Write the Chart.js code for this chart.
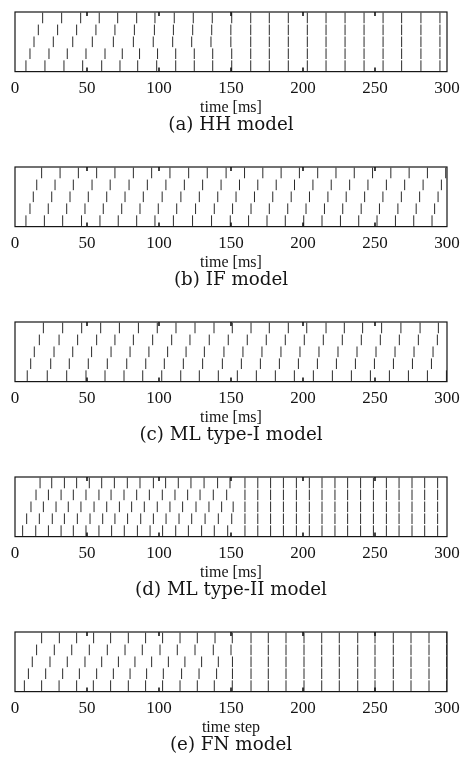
<!DOCTYPE html>
<html>
<head>
<meta charset="utf-8">
<script src="https://cdn.jsdelivr.net/npm/chart.js@4.4.1/dist/chart.umd.min.js"></script>
<style>
  body { margin: 0; background: #fff; width: 464px; height: 763px; overflow: hidden; }
  canvas { display: block; }
</style>
</head>
<body>
<canvas id="hh" width="464" height="155"></canvas>
<canvas id="iff" width="464" height="155"></canvas>
<canvas id="ml1" width="464" height="155"></canvas>
<canvas id="ml2" width="464" height="155"></canvas>
<canvas id="fn" width="464" height="155"></canvas>
<script>
// raster plots: spike times (ms) of 5 neurons, top row = neuron 1
const timeTicks = [0, 50, 100, 150, 200, 250, 300];

// (a) HH model - rows lock together after ~150 ms
const hhRow1 = [19.2, 32.4, 45.6, 58.5, 71.3, 84.5, 97.2, 110.6, 123.8, 137, 150.5];
const hhRow2 = [16.2, 29.6, 42.8, 56.2, 69.4, 82.9, 96.8, 110, 123.4, 136.6, 149.9];
const hhRow3 = [13.2, 26.6, 40.1, 53.7, 68.3, 82.2, 96, 109.5, 122.7, 136.1, 149.9];
const hhRow4 = [10.4, 23.6, 36.3, 49.3, 62.5, 74.5, 86.5, 99, 111.6, 124.5, 137.3, 150.5];
const hhRow5 = [7.6, 20.8, 34, 47, 60.2, 72.9, 85.2, 98.4, 111.6, 124.5, 137.3, 150.5];
const hhTail = [163.7, 176.6, 189.8, 203, 216, 229.2, 242.4, 255.6, 268.5, 281.9, 295.1];

// (b) IF model
const ifRow1 = [18.5, 31.3, 44, 56.7, 69.4, 82.2, 94.9, 107.6, 120.6, 133.5, 146.6, 159.4, 172.1, 184.8, 197.5, 210.2, 222.9, 235.6, 248.3, 261, 273.7, 286.4, 299.1];
const ifRow2 = [15.1, 27.8, 40.5, 53.5, 66.1, 79.2, 91.9, 104.8, 117.6, 130.3, 143.1, 155.9, 168.6, 181.4, 194.1, 206.9, 219.6, 232.4, 245.1, 257.9, 270.6, 283.4, 296.1];
const ifRow3 = [12.7, 25.5, 38.2, 50.9, 63.7, 76.4, 89.1, 102.2, 115.2, 128, 140.8, 153.5, 166.3, 179, 191.8, 204.5, 217.3, 230, 242.8, 255.5, 268.3, 281, 293.8];
const ifRow4 = [10.4, 23.1, 35.9, 48.6, 61.3, 74.1, 86.8, 99.5, 112.3, 125.4, 138.4, 151.1, 163.9, 176.6, 189.4, 202.1, 214.9, 227.6, 240.4, 253.1, 265.9, 278.6, 291.4];
const ifRow5 = [7.6, 20.4, 33.1, 46.2, 59, 71.7, 84.5, 97.2, 110, 123.3, 136.5, 149.5, 162.2, 175, 187.7, 200.5, 213.2, 226, 238.7, 251.4, 264.2, 276.9, 289.6];

// (c) ML type-I model
const ml1Row1 = [19.7, 33.1, 46.3, 59.5, 72.5, 85.7, 98.8, 111.8, 125, 138.2, 150.9, 163.9, 176.6, 189.8, 202.6, 216, 228.7, 241.4, 254.6, 268, 281.3, 294];
const ml1Row2 = [16.9, 30.6, 43.5, 56.7, 69.4, 82.2, 95.6, 108.8, 121.5, 134.9, 148.1, 161.3, 174.5, 187.7, 200.9, 214.1, 227.3, 240.5, 253.7, 266.9, 280.1, 293.3];
const ml1Row3 = [13.4, 27.1, 40.1, 53.2, 66.7, 79.9, 93, 106, 118.8, 131.5, 145.1, 158.3, 171.5, 184.7, 197.9, 211.1, 224.3, 237.5, 250.7, 263.9, 277.1, 290.3];
const ml1Row4 = [10.9, 24.8, 37.7, 50.9, 64.1, 77.6, 90.8, 103.7, 116.9, 130.3, 144, 157.2, 170.4, 183.6, 196.8, 210, 223.2, 236.4, 249.6, 262.8, 276, 289.2];
const ml1Row5 = [8.5, 22.4, 35.9, 49.3, 62.5, 75.7, 88.7, 101.9, 115.1, 128, 141.2, 154.4, 167.6, 180.8, 194, 207.2, 220.4, 233.6, 246.8, 260, 273.2, 286.4, 299.6];

// (d) ML type-II model
const ml2Row1 = [17.4, 25.5, 34.3, 42.8, 51.6, 60.2, 69, 78, 86.8, 96.1, 104.6, 113.4, 122.2, 131.3, 140.7, 149.3];
const ml2Row2 = [14.6, 23.2, 32, 40.5, 49.3, 58.3, 66.7, 75.7, 84.5, 93.3, 102.3, 111.1, 119.9, 128.5, 137.7, 147];
const ml2Row3 = [11.1, 19.7, 28.5, 37, 45.8, 54.9, 63.7, 72.5, 81, 89.8, 98.8, 107.6, 116.4, 125.7, 134.7, 143.5, 151.5];
const ml2Row4 = [8.1, 16.9, 25.9, 34.3, 43.3, 52.1, 60.9, 69.4, 78.2, 87.3, 96.1, 104.9, 113.9, 122.7, 132, 141.2, 150.5];
const ml2Row5 = [5.3, 14.4, 23.2, 32, 40.5, 49.3, 58.3, 67.1, 75.9, 85, 93.8, 102.5, 111.6, 120.4, 129.6, 138.4, 147.7];
const ml2Tail = [159.7, 168.6, 177.5, 186.4, 195.4, 204.4, 213.2, 222.2, 231, 240, 248.9, 257.9, 266.7, 275.7, 284.5, 293.5];

// (e) FN model (time steps)
const fnRow1 = [18.5, 30.8, 42.8, 54.6, 66.4, 78.7, 90.7, 102.5, 114.6, 126.6, 138.9, 150.9];
const fnRow2 = [15, 27.3, 39.4, 51.6, 64.1, 76.4, 88.4, 100.7, 112.7, 125, 137.7, 150];
const fnRow3 = [12, 24.3, 36.3, 48.6, 60.2, 71.8, 83.3, 94.9, 106.5, 118, 129.6, 141.2, 151];
const fnRow4 = [9.3, 21.3, 33.1, 44.7, 56.7, 68.3, 79.9, 91.4, 103, 115.7, 127.8, 140, 151];
const fnRow5 = [6.5, 18.5, 30.6, 42.8, 54.4, 66.4, 78.7, 90.7, 102.5, 114.6, 126.6, 138.4, 150.9];
const fnTail = [163.9, 175.9, 188.2, 200.7, 213, 225.2, 238, 250, 262.7, 275, 287.5, 299.8];

const serif = 'Liberation Serif, Times New Roman, serif';
const captionFont = 'DejaVu Serif, serif';
const ink = '#151515';

// box round the plot area plus the little inward ticks at top and bottom
const framePlugin = {
    id: 'frame',
    afterDatasetsDraw(chart) {
        const { ctx, chartArea: a, scales: { x } } = chart;
        ctx.save();
        ctx.strokeStyle = ink;
        ctx.lineWidth = 1.2;
        ctx.strokeRect(a.left, a.top, a.right - a.left, a.bottom - a.top);
        ctx.lineWidth = 1.6;
        timeTicks.slice(1, -1).forEach((v) => {
            const px = x.getPixelForValue(v);
            ctx.beginPath();
            ctx.moveTo(px, a.top);
            ctx.lineTo(px, a.top + 4);
            ctx.moveTo(px, a.bottom);
            ctx.lineTo(px, a.bottom - 4);
            ctx.stroke();
        });
        ctx.restore();
    }
};

function makeRaster(id, rows, xTitle, caption) {
    const datasets = rows.map((times, i) => ({
        data: times.map((t) => ({ x: t, y: i + 1 })),
        pointStyle: 'line',
        rotation: 90,
        pointRadius: 5.3,
        pointHoverRadius: 5.3,
        borderColor: '#2a2a2a',
        backgroundColor: '#2a2a2a',
        borderWidth: 1
    }));
    new Chart(document.getElementById(id), {
        type: 'scatter',
        data: { datasets },
        options: {
            responsive: false,
            animation: false,
            events: [],
            layout: { autoPadding: false, padding: { left: 15, right: 17, top: 12, bottom: 0 } },
            plugins: {
                legend: { display: false },
                tooltip: { enabled: false },
                title: {
                    display: true,
                    text: caption,
                    position: 'bottom',
                    color: ink,
                    font: { family: captionFont, size: 18.3, weight: 'normal', lineHeight: 1 },
                    padding: { top: 0, bottom: 21 }
                }
            },
            scales: {
                x: {
                    type: 'linear',
                    min: 0,
                    max: 300,
                    afterBuildTicks: (s) => { s.ticks = timeTicks.map((v) => ({ value: v })); },
                    grid: { display: false, drawTicks: false },
                    border: { display: false },
                    // small tick padding keeps the "300" overhang inside the right margin
                    ticks: { color: ink, padding: 4, maxRotation: 0, autoSkip: false,
                             font: { family: serif, size: 17, lineHeight: 1.47 } },
                    title: { display: true, text: xTitle, color: ink, padding: { top: 1.8, bottom: 5.9 },
                             font: { family: serif, size: 16, lineHeight: 0.2125 } }
                },
                y: { display: false, min: 0.5, max: 5.5, reverse: true }
            }
        },
        plugins: [framePlugin]
    });
}

makeRaster('hh', [hhRow1.concat(hhTail), hhRow2.concat(hhTail), hhRow3.concat(hhTail), hhRow4.concat(hhTail), hhRow5.concat(hhTail)], 'time [ms]', '(a) HH model');
makeRaster('iff', [ifRow1, ifRow2, ifRow3, ifRow4, ifRow5], 'time [ms]', '(b) IF model');
makeRaster('ml1', [ml1Row1, ml1Row2, ml1Row3, ml1Row4, ml1Row5], 'time [ms]', '(c) ML type-I model');
makeRaster('ml2', [ml2Row1.concat(ml2Tail), ml2Row2.concat(ml2Tail), ml2Row3.concat(ml2Tail), ml2Row4.concat(ml2Tail), ml2Row5.concat(ml2Tail)], 'time [ms]', '(d) ML type-II model');
makeRaster('fn', [fnRow1.concat(fnTail), fnRow2.concat(fnTail), fnRow3.concat(fnTail), fnRow4.concat(fnTail), fnRow5.concat(fnTail)], 'time step', '(e) FN model');
</script>
</body>
</html>
